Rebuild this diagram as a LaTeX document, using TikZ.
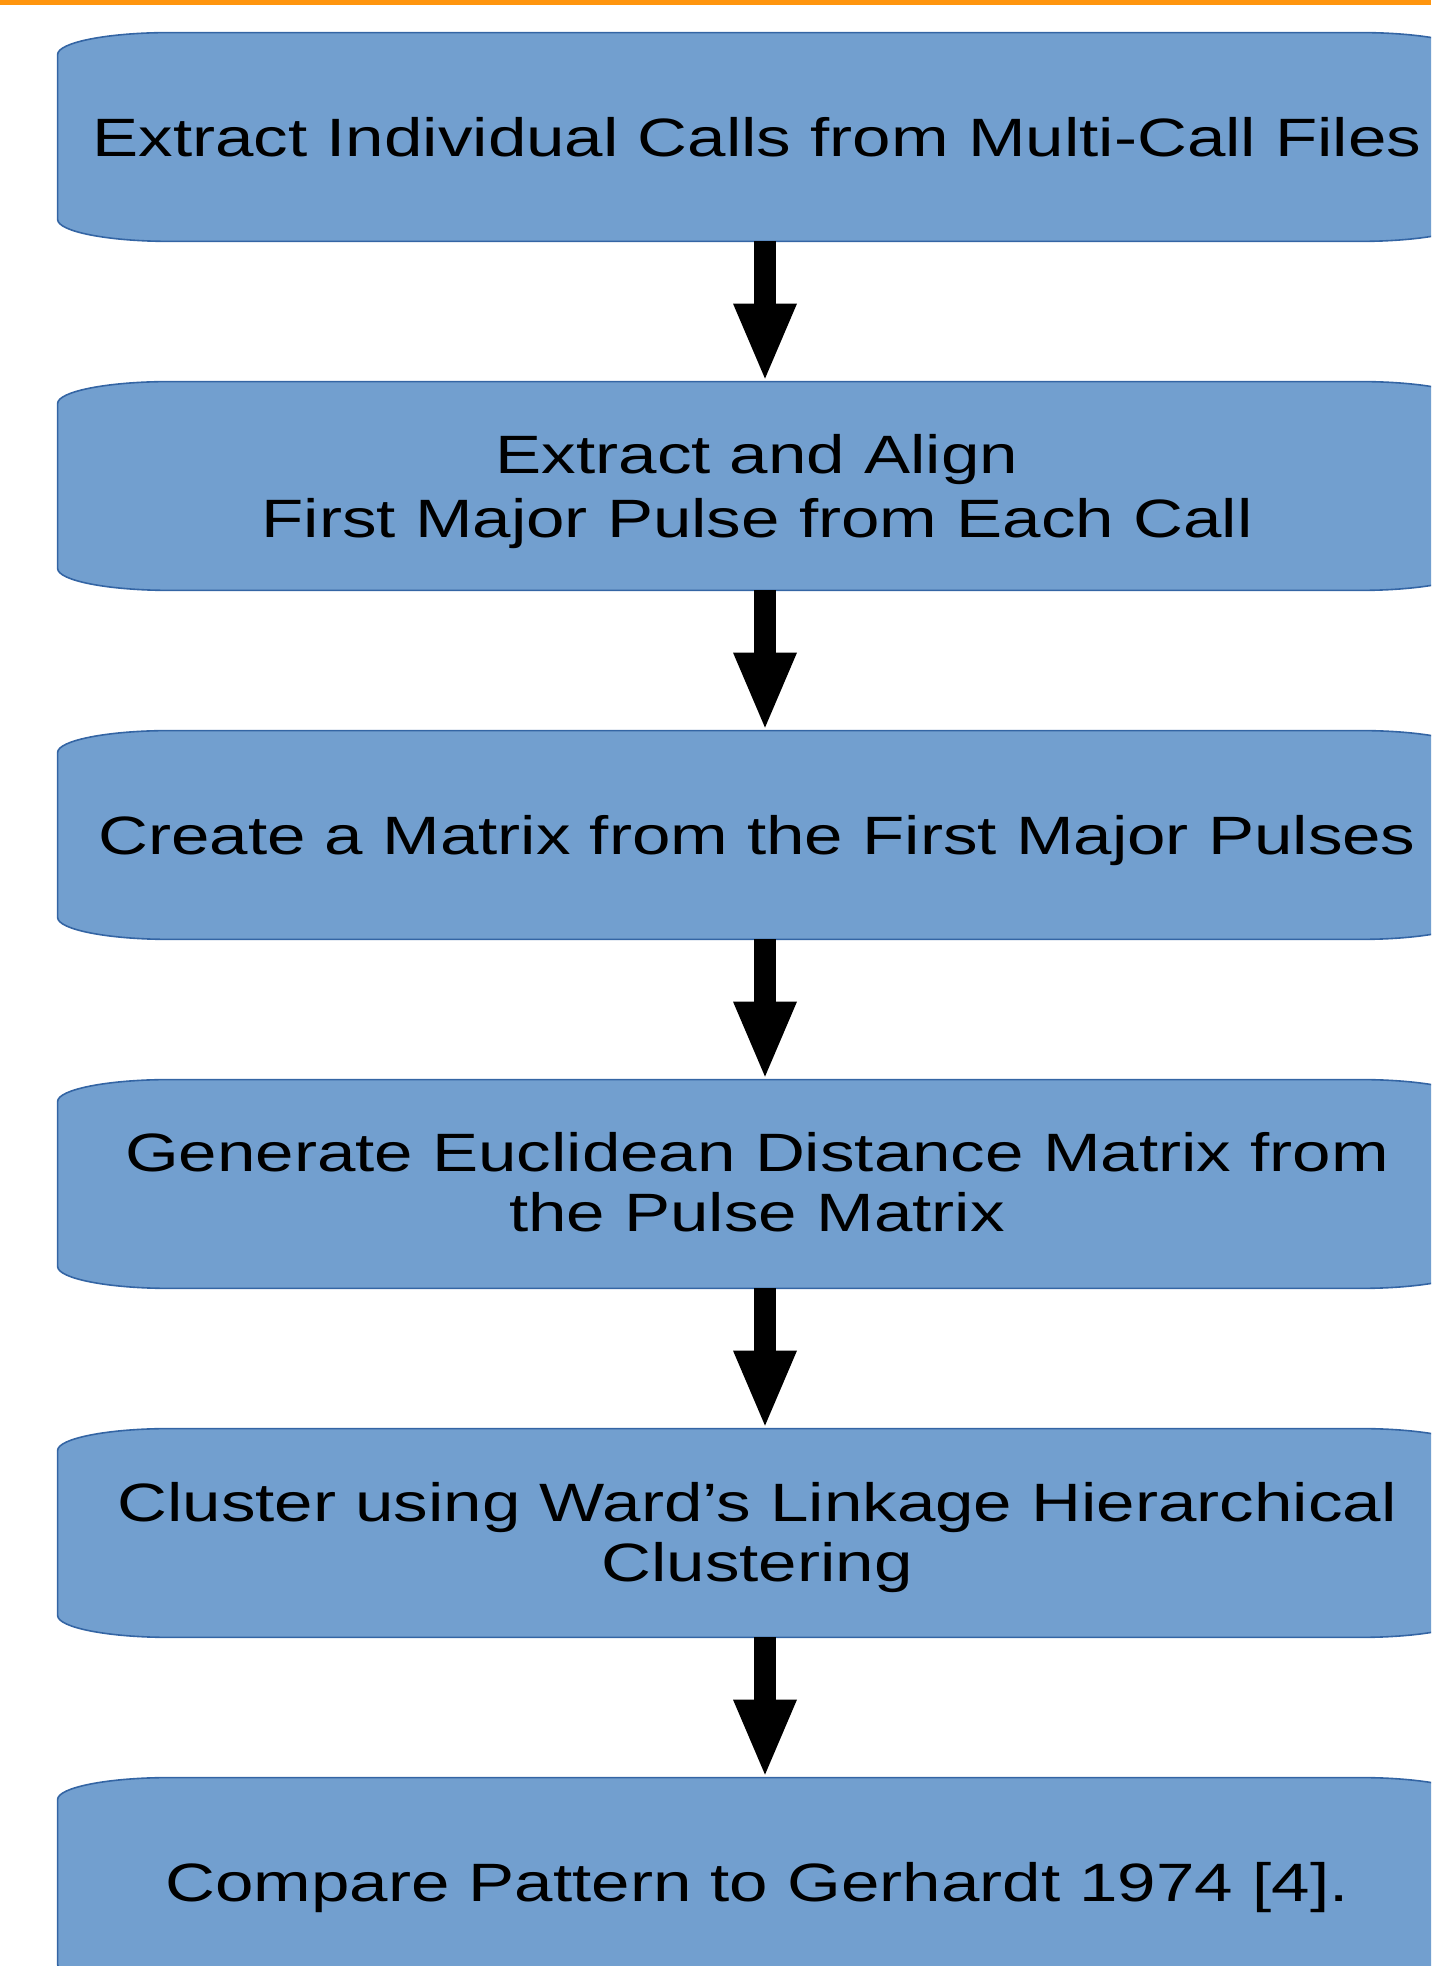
\documentclass[tikz,border=0pt]{standalone}
\usepackage{fontspec}
\newfontfamily\stretchfont[FakeStretch=1.28]{Liberation Sans}
\usetikzlibrary{arrows.meta,calc}
\definecolor{boxfill}{HTML}{729FCF}
\definecolor{boxline}{HTML}{3465A4}
\definecolor{topbar}{RGB}{255,149,14}
\newcommand\flowoutline[1]{%
  \path[boxshape] ([yshift=-11pt]#1.north west)
    arc[start angle=180,end angle=90,x radius=56pt,y radius=11pt]
    -- ([xshift=-56pt]#1.north east)
    arc[start angle=90,end angle=0,x radius=56pt,y radius=11pt]
    -- ([yshift=11pt]#1.south east)
    arc[start angle=0,end angle=-90,x radius=56pt,y radius=11pt]
    -- ([xshift=56pt]#1.south west)
    arc[start angle=270,end angle=180,x radius=56pt,y radius=11pt]
    -- cycle;}
\tikzset{
  boxnode/.style={inner sep=0pt,minimum width=707pt,minimum height=104pt},
  boxshape/.style={fill=boxfill,draw=boxline,line width=0.8pt},
  steptext/.style={inner sep=0pt,align=center,text=black,
    font=\stretchfont\fontsize{27pt}{32pt}\selectfont},
  steptextnarrow/.style={steptext,
    font=\stretchfont\fontsize{27pt}{30pt}\selectfont},
  flowarrow/.style={line width=11pt,draw=black,
    -{Triangle[length=37.5pt,width=32pt,line width=0pt]},shorten >=1.5pt}
}
\begin{document}
\begin{tikzpicture}[x=0.5pt,y=0.5pt]
\useasboundingbox (0,0) rectangle (1431,1966);
\clip (0,0) rectangle (1431,1966);
\fill[topbar] (0,1961) rectangle (1431,1966);
% box frames
\node[boxnode] (b1) at (765,1829) {};
\node[boxnode] (b2) at (765,1480) {};
\node[boxnode] (b3) at (765,1131) {};
\node[boxnode] (b4) at (765,782) {};
\node[boxnode] (b5) at (765,433) {};
\node[boxnode] (b6) at (765,84) {};
\flowoutline{b1}
\flowoutline{b2}
\flowoutline{b3}
\flowoutline{b4}
\flowoutline{b5}
\flowoutline{b6}
% texts
\node[steptext] (t1) at (757,1822.5) {\strut Extract Individual Calls from Multi-Call Files\strut};
\node[steptext] (t2) at (757,1473.5) {\strut Extract and Align\\First Major Pulse from Each Call\strut};
\node[steptext] (t3) at (757,1124.5) {\strut Create a Matrix from the First Major Pulses\strut};
\node[steptextnarrow] (t4) at (757,776.5) {\strut Generate Euclidean Distance Matrix from\\the Pulse Matrix\strut};
\node[steptextnarrow] (t5) at (757,426.5) {\strut Cluster using Ward’s Linkage Hierarchical\\Clustering\strut};
\node[steptext] (t6) at (757,77.5) {\strut Compare Pattern to Gerhardt 1974 [4].\strut};
% arrows
\draw[flowarrow] (b1.south) -- (b2.north);
\draw[flowarrow] (b2.south) -- (b3.north);
\draw[flowarrow] (b3.south) -- (b4.north);
\draw[flowarrow] (b4.south) -- (b5.north);
\draw[flowarrow] (b5.south) -- (b6.north);
\end{tikzpicture}
\end{document}
